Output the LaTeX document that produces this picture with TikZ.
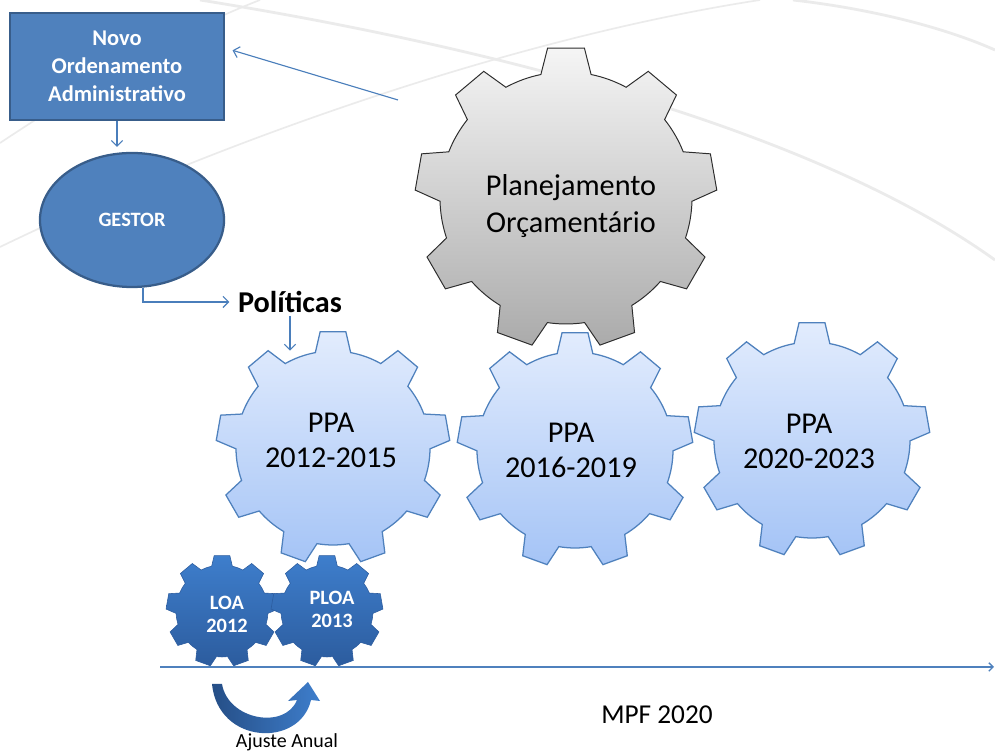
\documentclass[tikz,border=0pt]{standalone}
\usepackage{fontspec}
\setmainfont{Carlito}
\usepackage{xcolor}
\definecolor{boxblue}{RGB}{79,129,189}
\definecolor{boxedge}{RGB}{56,93,138}
\definecolor{linkblue}{RGB}{74,126,187}
\definecolor{ppatop}{RGB}{226,236,253}
\definecolor{ppabot}{RGB}{165,196,246}
\definecolor{loatop}{RGB}{62,126,204}
\definecolor{loabot}{RGB}{44,92,158}
\definecolor{gearedge}{RGB}{45,45,45}
\usepackage{tikz}
\usetikzlibrary{arrows.meta, shapes.geometric}

% centre, teeth, outer radius, body radius, tip and base half-angles, style
\newcommand{\gear}[7]{%
  \path[#7, shift={#1}] ({90+360/#2-#6}:#4)
    \foreach \k in {1,...,#2} {
      -- ({90+\k*360/#2-#5}:#3) -- ({90+\k*360/#2+#5}:#3)
      -- ({90+\k*360/#2+#6}:#4)
      arc[start angle={90+\k*360/#2+#6}, end angle={90+(\k+1)*360/#2-#6}, radius=#4]
    } -- cycle;}

\begin{document}
\begin{tikzpicture}[
  x=0.025cm, y=0.025cm,
  orgbox/.style  = {rectangle, draw=boxedge, line width=1.6pt, fill=boxblue,
                    minimum width=5.35cm, minimum height=2.675cm, align=center,
                    text=white, font=\fontsize{16}{19.8}\selectfont\bfseries},
  actor/.style   = {ellipse, draw=boxedge, line width=1.6pt, fill=boxblue,
                    minimum width=4.6cm, minimum height=3.35cm, inner sep=0pt,
                    text=white, font=\fontsize{14.5}{17}\selectfont\bfseries},
  body/.style    = {circle, inner sep=0pt},
  bigtxt/.style  = {align=center, font=\fontsize{21.5}{26}\selectfont},
  ppatxt/.style  = {align=center, font=\fontsize{21.5}{24.8}\selectfont},
  loatxt/.style  = {align=center, text=white, font=\fontsize{14.5}{16.3}\selectfont\bfseries},
  plain/.style   = {inner sep=1pt},
  link/.style    = {-{Straight Barb[length=4pt, width=8pt]}, line width=0.8pt, linkblue},
  timeline/.style= {-{Straight Barb[length=3pt, width=6pt]}, line width=1pt, boxblue},
  bgarc/.style   = {draw=gray!16, line width=2pt},
  ppagear/.style = {top color=ppatop, bottom color=ppabot, draw=boxblue, line width=0.9pt},
  plangear/.style= {top color=gray!8, bottom color=gray!66, draw=gearedge, line width=0.7pt},
  loagear/.style = {top color=loatop, bottom color=loabot, draw=loabot, line width=0.4pt},
]
\useasboundingbox (0,0) rectangle (995,754);

% slide background
\draw[bgarc] (200,754) .. controls (450,714) and (800,634) .. (995,494);
\draw[bgarc, line width=1.2pt] (0,611) .. controls (80,664) and (170,719) .. (260,754);
\draw[bgarc, line width=1.2pt] (0,507) .. controls (200,604) and (500,714) .. (760,754);
\draw[bgarc] (793,754) .. controls (880,744) and (950,724) .. (995,704);

\node[orgbox] (box) at (117,687.5) {Novo\\Ordenamento\\Administrativo};
\node[actor]  (gestor) at (132,534) {GESTOR};
\node[plain, inner sep=2pt, font=\fontsize{21.5}{24}\selectfont\bfseries] (pol) at (290,452) {Políticas};
\coordinate (src) at (398,654);

% gear bodies
\node[body, minimum size=6.3cm]  (plan) at (566,556) {};
\node[body, minimum size=4.85cm] (ppa1) at (333,306) {};
\node[body, minimum size=4.9cm]  (ppa2) at (575,304) {};
\node[body, minimum size=4.9cm]  (ppa3) at (812,314) {};
\node[body, minimum size=2.3cm]  (loa)  at (222,143) {};
\node[body, minimum size=2.3cm]  (ploa) at (327,143) {};

\gear{(ppa1)}{9}{117}{97}{6.3}{10.5}{ppagear}
\gear{(ppa2)}{9}{118}{98}{6.3}{10.5}{ppagear}
\gear{(ppa3)}{9}{118}{98}{6.3}{10.5}{ppagear}
\gear{(plan)}{9}{151}{126}{7}{11.5}{plangear}
\gear{(loa)}{9}{56}{46}{8}{13}{loagear}
\gear{(ploa)}{9}{56}{46}{8}{13}{loagear}

\node[bigtxt] (plantxt) at (571,548) {Planejamento\\Orçamentário};
\node[ppatxt] (ppa1txt) at (331,314) {PPA\\2012-2015};
\node[ppatxt] (ppa2txt) at (571,304) {PPA\\2016-2019};
\node[ppatxt] (ppa3txt) at (809,312.5) {PPA\\2020-2023};
\node[loatxt] (loatxt)  at (227,140) {LOA\\2012};
\node[loatxt] (ploatxt) at (332,144.5) {PLOA\\2013};

\draw[link, shorten >=5.5pt] (src) -- ([yshift=0.46cm]box.east);
\draw[link, shorten >=3.5pt] (box.south) -- (box.south |- gestor.north);
\draw[link, shorten >=4pt] ([xshift=0.275cm]gestor.south) |- (pol.west);
\draw[link] (pol.south) -- (pol.south |- ppa1.north);

\coordinate (t0) at (160,87);
\coordinate (t1) at (994,87);
\draw[timeline] (t0) -- (t1);

% yearly turn arrow
\path[left color=loabot!85!black, right color=loatop] (212,70) -- (222,70)
  .. controls (228,34) and (285,24) .. (297,54) -- (288,53) -- (308,72)
  -- (320,53) -- (311,54) .. controls (300,6) and (218,9) .. (212,70) -- cycle;

\node[plain, font=\fontsize{19.4}{22}\selectfont] (mpf) at (657,39) {MPF 2020};
\node[plain, anchor=base, font=\fontsize{14.2}{17}\selectfont] (ajuste) at (287,6) {Ajuste Anual};
\end{tikzpicture}
\end{document}
